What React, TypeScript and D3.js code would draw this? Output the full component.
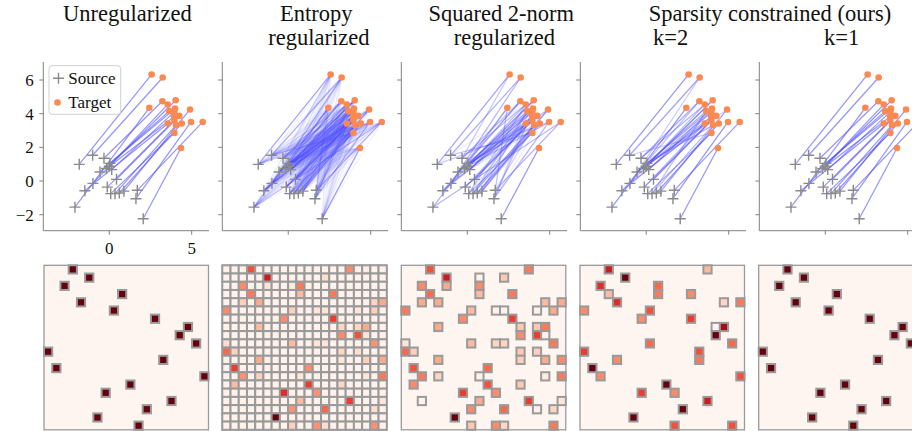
import React from 'react';
import * as d3 from 'd3';

// ---------- data ----------
const xTicks = [0, 5];
const yTicks = [-2, 0, 2, 4, 6];

// source points (index = row of transport plan)
const sourceX = [-1.01, -1.82, -0.32, -0.99, -0.56, 0.15, 0.44, 0.89, 0.61, 0.0, 0.04, 0.35, -2.08, -1.48, 1.7, -0.12, 0.09, 1.62, 2.06, -0.16];
const sourceY = [1.53, 0.99, 1.35, -0.14, 0.54, 0.68, 0.1, -0.6, -0.71, 0.88, 1.05, -0.75, -1.55, -0.58, -0.55, -0.36, -0.75, -1.05, -2.24, 0.74];
// target points (index = column of transport plan)
const targetX = [3.99, 2.43, 3.22, 3.24, 3.64, 2.57, 4.35, 3.95, 3.95, 3.55, 5.67, 3.93, 4.96, 4.25, 4.05, 3.95, 4.4, 4.9, 4.03, 3.55];
const targetY = [4.31, 4.35, 4.74, 6.15, 4.15, 6.33, 1.96, 3.61, 4.11, 4.55, 3.51, 3.82, 3.51, 3.87, 3.32, 2.86, 3.42, 4.25, 4.8, 3.42];

// permutation found by unregularized OT (and k=1)
const unregPerm = [3, 5, 2, 9, 4, 8, 13, 17, 16, 18, 0, 14, 1, 19, 10, 7, 15, 12, 6, 11];

// entropy-regularized plan: background level + notable cells [row, col, value]
const entropyBase = 0.015;
const entropyCells: [number, number, number][] = [
  [0, 3, 0.57], [0, 15, 0.4], [0, 17, 0.06],
  [1, 5, 0.75], [1, 12, 0.125],
  [2, 2, 0.4], [2, 5, 0.09], [2, 9, 0.45], [2, 8, 0.06],
  [3, 3, 0.45], [3, 9, 0.25], [3, 13, 0.45],
  [4, 2, 0.18], [4, 4, 0.3], [4, 18, 0.16], [4, 19, 0.3],
  [5, 0, 0.4], [5, 8, 0.18], [5, 11, 0.09], [5, 12, 0.09], [5, 16, 0.09], [5, 18, 0.18],
  [6, 7, 0.4], [6, 13, 0.625],
  [7, 4, 0.25], [7, 14, 0.16], [7, 16, 0.16], [7, 17, 0.3],
  [8, 14, 0.4], [8, 16, 0.57], [8, 17, 0.09],
  [9, 0, 0.125], [9, 8, 0.25], [9, 11, 0.09], [9, 12, 0.09], [9, 18, 0.375],
  [10, 0, 0.5], [10, 1, 0.18], [10, 14, 0.16], [10, 16, 0.125],
  [11, 4, 0.3], [11, 14, 0.09], [11, 17, 0.18], [11, 19, 0.3],
  [12, 1, 0.625], [12, 10, 0.4],
  [13, 2, 0.375], [13, 4, 0.18], [13, 9, 0.09], [13, 17, 0.09], [13, 19, 0.45],
  [14, 1, 0.25], [14, 10, 0.625], [14, 14, 0.16],
  [15, 7, 0.68], [15, 11, 0.375],
  [16, 9, 0.25], [16, 15, 0.625], [16, 19, 0.09],
  [17, 8, 0.375], [17, 12, 0.5], [17, 18, 0.125],
  [18, 6, 1.0],
  [19, 8, 0.18], [19, 11, 0.375], [19, 12, 0.125], [19, 18, 0.375],
];

// squared 2-norm regularized plan [row, col, value]
const l2Cells: [number, number, number][] = [
  [0, 3, 0.57], [0, 15, 0.45],
  [1, 5, 0.75], [1, 9, 0.03], [1, 12, 0.21],
  [2, 2, 0.4], [2, 5, 0.3], [2, 9, 0.4],
  [3, 3, 0.5], [3, 9, 0.25], [3, 13, 0.45],
  [4, 2, 0.3], [4, 4, 0.3], [4, 17, 0.25], [4, 19, 0.3],
  [5, 0, 0.45], [5, 8, 0.25], [5, 11, 0.03], [5, 12, 0.03], [5, 16, 0.03], [5, 18, 0.3],
  [6, 7, 0.4], [6, 13, 0.625],
  [7, 4, 0.3], [7, 14, 0.21], [7, 16, 0.21], [7, 17, 0.45],
  [8, 14, 0.4], [8, 16, 0.625], [8, 17, 0.02],
  [9, 0, 0.09], [9, 8, 0.25], [9, 11, 0.16], [9, 12, 0.16], [9, 18, 0.45],
  [10, 0, 0.5], [10, 1, 0.18], [10, 14, 0.21], [10, 16, 0.18],
  [11, 4, 0.3], [11, 14, 0.18], [11, 17, 0.3], [11, 19, 0.4],
  [12, 1, 0.57], [12, 10, 0.5],
  [13, 2, 0.45], [13, 4, 0.16], [13, 9, 0.03], [13, 17, 0.06], [13, 19, 0.45],
  [14, 1, 0.4], [14, 10, 0.57], [14, 14, 0.21],
  [15, 7, 0.625], [15, 11, 0.4],
  [16, 2, 0.02], [16, 9, 0.3], [16, 15, 0.625], [16, 19, 0.09],
  [17, 8, 0.4], [17, 12, 0.5], [17, 16, 0.03], [17, 18, 0.16],
  [18, 6, 1.0],
  [19, 8, 0.21], [19, 11, 0.4], [19, 12, 0.16], [19, 18, 0.45],
];

// sparsity constrained k=2 plan [row, col, value]
const k2Cells: [number, number, number][] = [
  [0, 3, 0.75], [0, 15, 0.25],
  [1, 5, 1.0],
  [2, 2, 0.68], [2, 9, 0.5],
  [3, 3, 0.25], [3, 9, 0.45], [3, 13, 0.4],
  [4, 4, 0.68], [4, 17, 0.16], [4, 19, 0.45],
  [5, 0, 0.4], [5, 8, 0.57],
  [6, 7, 0.4], [6, 13, 0.625],
  [7, 16, 0.0], [7, 17, 0.875],
  [8, 16, 1.0],
  [9, 8, 0.5], [9, 18, 0.5],
  [10, 0, 0.625], [10, 14, 0.57],
  [11, 4, 0.4], [11, 14, 0.45],
  [12, 1, 1.0],
  [13, 2, 0.4], [13, 19, 0.57],
  [14, 10, 1.0],
  [15, 7, 0.625], [15, 11, 0.4],
  [16, 15, 0.75],
  [17, 12, 1.0],
  [18, 6, 1.0],
  [19, 11, 0.57], [19, 18, 0.57],
];

const titleLines = [
  { text: 'Unregularized', x: 63, y: 20.7, anchor: 'start' },
  { text: 'Entropy', x: 280, y: 20.7, anchor: 'start' },
  { text: 'regularized', x: 268.3, y: 45, anchor: 'start' },
  { text: 'Squared 2-norm', x: 574, y: 20.7, anchor: 'end' },
  { text: 'regularized', x: 555, y: 45, anchor: 'end' },
  { text: 'Sparsity constrained (ours)', x: 648.7, y: 20.7, anchor: 'start' },
  { text: 'k=2', x: 653, y: 45, anchor: 'start' },
  { text: 'k=1', x: 824, y: 45, anchor: 'start' },
];

const legendItems = ['Source', 'Target'];

// ---------- layout ----------
const W = 912;
const H = 431;
const N = 20;
const panelLefts = [43.3, 222.3, 401.3, 580.3, 759.3];
const heatLefts = [44, 222.3, 401.3, 580, 758.7];
const panelW = 165.7;
const scatterTop = 62;
const scatterBottom = 230.7;
const heatTop = 265.3;
const heatSize = 164.5;
const serif = '"Liberation Serif", "Times New Roman", Times, serif';
const spineColor = '#808080';
const srcColor = '#8a8a8a';
const tgtColor = '#fa8a52';
const lineColor = '#4c4cff';

type Cell = [number, number, number];

const permCells: Cell[] = unregPerm.map((c, r) => [r, c, 1]);
const entropyFull: Cell[] = (() => {
  const m = new Map<string, number>();
  entropyCells.forEach(([r, c, v]) => m.set(r + ',' + c, v));
  const out: Cell[] = [];
  for (const r of d3.range(N)) for (const c of d3.range(N)) {
    out.push([r, c, m.has(r + ',' + c) ? (m.get(r + ',' + c) as number) : entropyBase]);
  }
  return out;
})();

const plans: Cell[][] = [permCells, entropyFull, l2Cells, k2Cells, permCells];

const yScale = d3.scaleLinear().domain([-2.95, 7.07]).range([scatterBottom, scatterTop]);
const alphaScale = d3.scalePow().exponent(0.5).domain([0, 1]).range([0, 0.6]).clamp(true);

function Scatter({ idx }: { idx: number }) {
  const left = panelLefts[idx];
  const x = d3.scaleLinear().domain([-4, 6.05]).range([left, left + panelW]);
  const cells = [...plans[idx]].sort((a, b) => a[2] - b[2]);
  return (
    <g>
      {/* spines */}
      <line x1={left} x2={left} y1={scatterTop} y2={scatterBottom} stroke={spineColor} strokeWidth={1} />
      <line x1={left} x2={left + panelW} y1={scatterBottom} y2={scatterBottom} stroke={spineColor} strokeWidth={1} />
      {yTicks.map((t) => (
        <g key={'y' + t}>
          <line x1={left - 4} x2={left} y1={yScale(t)} y2={yScale(t)} stroke={spineColor} strokeWidth={1} />
          {idx === 0 && (
            <text x={left - 9.5} y={yScale(t)} dy="0.35em" textAnchor="end" fontFamily={serif} fontSize={17} fill="#111">
              {t < 0 ? '\u2212' + Math.abs(t) : String(t)}
            </text>
          )}
        </g>
      ))}
      {xTicks.map((t) => (
        <g key={'x' + t}>
          <line x1={x(t)} x2={x(t)} y1={scatterBottom} y2={scatterBottom + 4} stroke={spineColor} strokeWidth={1} />
          {idx === 0 && (
            <text x={x(t)} y={254.3} textAnchor="middle" fontFamily={serif} fontSize={17} fill="#111">
              {String(t)}
            </text>
          )}
        </g>
      ))}
      {/* transport lines */}
      {cells.filter((c) => c[2] > 0).map(([r, c, v], k) => (
        <line
          key={'l' + k}
          x1={x(sourceX[r])}
          y1={yScale(sourceY[r])}
          x2={x(targetX[c])}
          y2={yScale(targetY[c])}
          stroke={lineColor}
          strokeOpacity={alphaScale(v)}
          strokeWidth={1.2}
        />
      ))}
      {/* sources */}
      {sourceX.map((sx, i) => {
        const px = x(sx);
        const py = yScale(sourceY[i]);
        return (
          <path key={'s' + i} d={`M${px - 5.5},${py}H${px + 5.5}M${px},${py - 5.5}V${py + 5.5}`} stroke={srcColor} strokeWidth={1.4} fill="none" />
        );
      })}
      {/* targets */}
      {targetX.map((tx, j) => (
        <circle key={'t' + j} cx={x(tx)} cy={yScale(targetY[j])} r={3.3} fill={tgtColor} />
      ))}
    </g>
  );
}

function Heat({ idx }: { idx: number }) {
  const left = heatLefts[idx];
  const bx = d3.scaleBand<number>().domain(d3.range(N)).range([left, left + heatSize]);
  const by = d3.scaleBand<number>().domain(d3.range(N)).range([heatTop, heatTop + heatSize]);
  return (
    <g>
      <rect x={left} y={heatTop} width={heatSize} height={heatSize} fill="#fff5f0" stroke="#9a9a9a" strokeWidth={1.3} />
      {plans[idx].map(([r, c, v], k) => (
        <rect
          key={k}
          x={bx(c)}
          y={by(r)}
          width={bx.bandwidth()}
          height={by.bandwidth()}
          fill={d3.interpolateReds(v)}
          stroke="#9a9a9a"
          strokeWidth={2}
        />
      ))}
    </g>
  );
}

export default function App() {
  return (
    <svg width={W} height={H} style={{ position: 'absolute', left: 0, top: 0, background: '#fff' }}>
      <rect x={0} y={0} width={W} height={H} fill="#fff" />
      {titleLines.map((t, i) => (
        <text key={i} x={t.x} y={t.y} textAnchor={t.anchor as any} fontFamily={serif} fontSize={22.5} fill="#111">
          {t.text}
        </text>
      ))}
      {panelLefts.map((_, i) => (
        <Scatter key={'sc' + i} idx={i} />
      ))}
      {heatLefts.map((_, i) => (
        <Heat key={'h' + i} idx={i} />
      ))}
      {/* legend */}
      <g>
        <rect x={49} y={65.7} width={71.7} height={48.6} rx={3} fill="#fff" fillOpacity={0.85} stroke="#d0d0d0" strokeWidth={1} />
        <path d="M53,78.3H64M58.5,72.8V83.8" stroke={srcColor} strokeWidth={1.4} fill="none" />
        <circle cx={57.5} cy={102.5} r={3.3} fill={tgtColor} />
        {legendItems.map((s, i) => (
          <text key={s} x={68.3} y={83.8 + i * 24.2} fontFamily={serif} fontSize={17} fill="#111">
            {s}
          </text>
        ))}
      </g>
    </svg>
  );
}
